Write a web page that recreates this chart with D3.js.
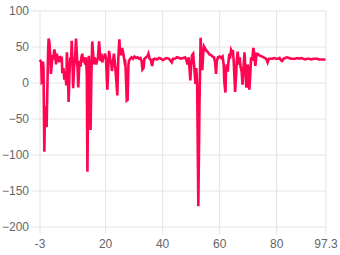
<!DOCTYPE html>
<html>
<head>
<meta charset="utf-8">
<script src="https://cdn.jsdelivr.net/npm/d3@7"></script>
<style>
  body { margin: 0; background: #fff; }
  .axis text { font-family: "Liberation Sans", Arial, sans-serif; font-size: 12px; fill: #666; }
  .axis line { stroke: #e4e4e4; }
  .axis path { display: none; }
</style>
</head>
<body>
<div id="Canvas"></div>
<script>
// x positions and values
let xs = [-3.0,-2.65,-2.4,-2.2,-1.9,-1.8,-1.6,-1.3,-1.1,-0.8,-0.5,-0.3,0.0,0.2,0.5,0.8,1.0,1.3,1.6,1.8,
  2.2,2.5,2.8,3.1,3.4,3.6,3.9,4.2,4.5,4.8,5.0,5.4,5.7,6.0,6.4,6.6,6.9,7.2,7.5,7.8,
  8.1,8.3,8.6,8.8,9.1,9.5,9.8,10.1,10.4,10.6,10.9,11.1,11.4,11.7,12.0,12.3,12.6,13.0,13.3,13.6,
  13.8,14.0,14.3,14.6,14.9,15.2,15.5,15.8,16.1,16.3,16.6,16.9,17.2,17.5,17.9,18.2,18.4,18.7,19.0,19.3,
  19.6,20.0,20.3,20.8,21.1,21.4,21.7,21.9,22.2,22.4,22.8,23.1,23.5,23.8,24.3,24.6,25.0,25.2,25.6,26.0,
  26.4,26.8,27.0,27.2,27.6,27.9,28.2,28.4,28.8,29.3,29.8,30.3,30.9,31.4,31.9,32.4,32.8,33.1,33.5,33.8,
  34.4,34.9,35.2,35.6,36.0,36.2,36.5,36.9,37.5,38.2,38.9,39.6,40.3,41.0,41.7,42.4,43.0,43.4,43.8,44.5,
  45.2,46.0,46.6,47.4,48.1,48.6,48.9,49.3,49.6,49.9,50.2,50.5,50.9,51.2,51.7,52.0,52.3,52.7,53.1,53.5,
  53.8,54.1,54.4,54.7,55.1,55.6,56.1,56.6,57.2,57.7,58.2,58.6,58.9,59.2,59.6,60.2,60.7,61.2,61.6,61.8,
  62.2,62.4,62.7,63.0,63.3,63.6,63.8,64.2,64.5,64.8,65.1,65.4,65.6,66.0,66.2,66.5,66.9,67.2,67.5,67.9,
  68.2,68.6,68.9,69.2,69.5,69.7,70.0,70.3,70.6,70.9,71.2,71.6,72.0,72.3,72.7,73.1,73.5,74.0,74.5,75.1,
  75.6,76.1,76.6,77.0,77.4,77.9,78.6,79.3,80.0,80.7,81.2,81.7,82.1,82.6,83.1,83.8,84.5,85.2,86.0,86.6,
  87.4,88.1,88.8,89.5,90.2,90.9,91.6,92.3,93.0,93.7,94.4,95.1,95.8,96.5,97.3]
let ys = [29,30,28,0,1,29,20,-96,-40,-33,-62,-20,40,61,55,35,12,25,38,32,
  46,40,25,40,30,35,28,37,30,36,13,20,4,15,-4,42,20,-27,10,35,
  30,58,25,-8,20,35,61,40,15,-7,20,30,22,35,40,28,35,25,35,10,
  -124,-40,37,20,-66,10,57,40,25,35,30,25,30,35,57,40,30,40,28,33,
  35,40,34,-10,20,44,35,30,26,16,30,40,25,10,-18,30,60,45,38,48,
  40,30,32,20,-25,-24,25,30,33,35,33,36,34,35,33,34,30,18,20,33,
  35,37,40,33,32,28,23,32,33,32,34,33,31,33,34,33,30,28,33,33,
  35,34,33,34,35,30,25,35,20,3,25,38,40,25,-2,20,-5,-172,-30,62,
  40,17,40,50,47,44,42,39,38,36,35,28,12,30,35,36,34,36,25,2,
  -14,15,25,15,30,40,33,45,42,45,30,5,-13,15,30,43,25,35,22,15,
  -3,25,42,20,-5,-7,25,15,-10,10,35,30,48,40,23,40,40,38,37,36,
  35,34,32,28,33,33,33,34,33,33,34,31,30,33,34,35,34,33,33,33,
  34,33,34,33,32,33,33,32,33,33,33,32,32,32,32]
let xTicks = [-3, 20, 40, 60, 80, 97.3]
let yTicks = [-200, -150, -100, -50, 0, 50, 100]

let svg = d3.select("#Canvas")
    .append("svg")
    .attr("width", 340)
    .attr("height", 255)

let plotLeft = 39.5, plotRight = 325.5, plotTop = 10.5, plotBottom = 226.5

let xScale = d3.scaleLinear()
    .domain([-3, 97.3])
    .range([plotLeft, plotRight])
let yScale = d3.scaleLinear()
    .domain([-200, 100])
    .range([plotBottom, plotTop])

// grid + ticks (ticks stick out 8px past the axes)
let xAxis = d3.axisBottom(xScale)
    .tickValues(xTicks)
    .tickFormat(d => d)
    .tickSize(-(plotBottom - plotTop + 8))
    .tickPadding(5)
let yAxis = d3.axisLeft(yScale)
    .tickValues(yTicks)
    .tickSize(-(plotRight - plotLeft + 8))
    .tickPadding(2.5)

svg.append("g")
    .attr("class", "axis")
    .attr("transform", "translate(0," + (plotBottom + 8) + ")")
    .call(xAxis)
svg.append("g")
    .attr("class", "axis")
    .attr("transform", "translate(" + (plotLeft - 8) + ",0)")
    .call(yAxis)

let points = xs.map((x, i) => [x, ys[i]])
let line = d3.line()
    .x(d => xScale(d[0]))
    .y(d => yScale(d[1]))

svg.append("path")
    .datum(points)
    .attr("d", line)
    .attr("fill", "none")
    .attr("stroke", "#ff0552")
    .attr("stroke-width", 2.6)
    .attr("stroke-linejoin", "miter")
</script>
</body>
</html>
